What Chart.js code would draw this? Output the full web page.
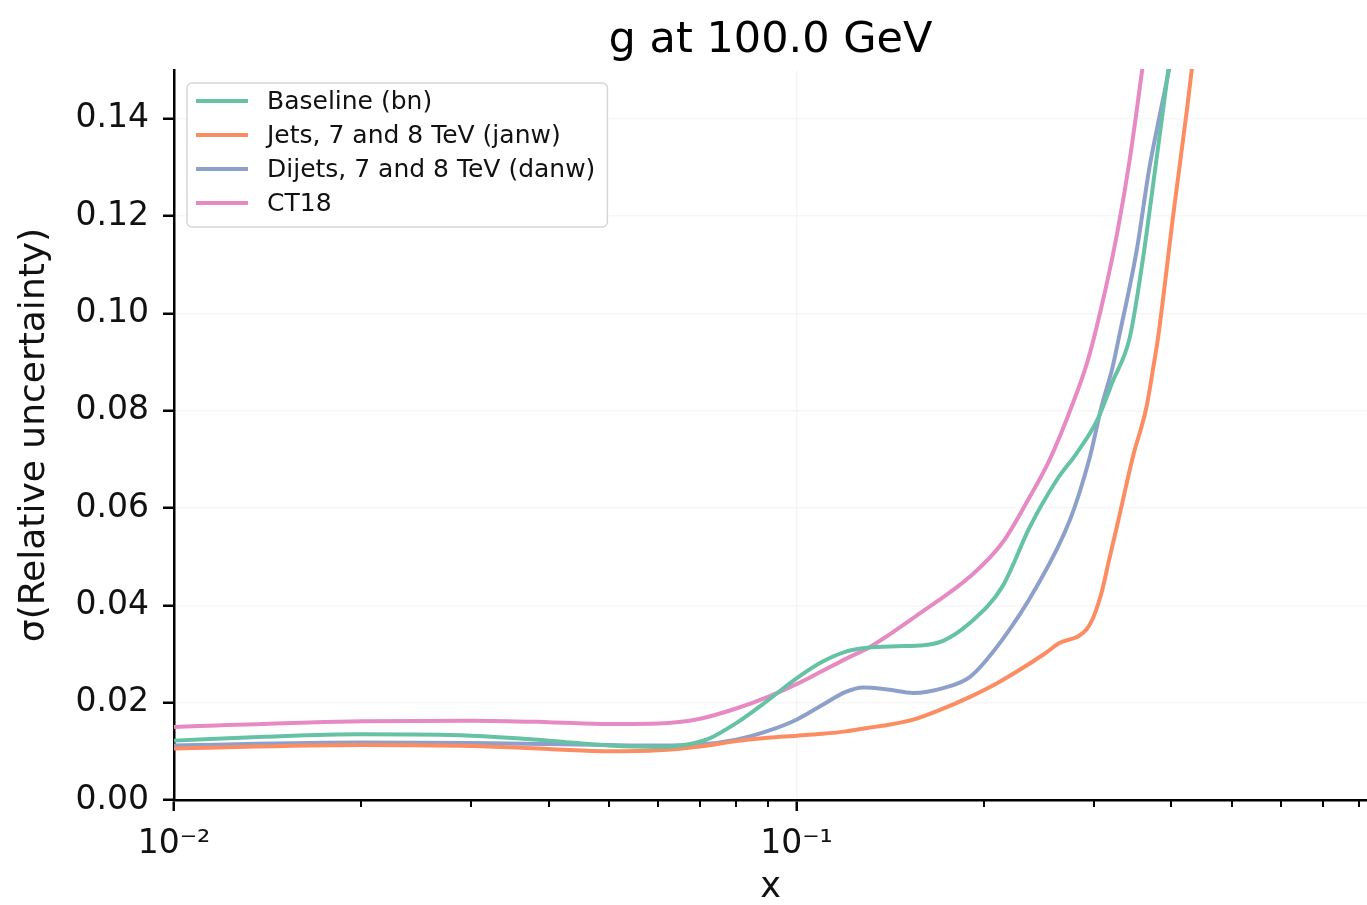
<!DOCTYPE html>
<html>
<head>
<meta charset="utf-8">
<script src="https://cdn.jsdelivr.net/npm/chart.js@4.4.1/dist/chart.umd.min.js"></script>
<style>
  html, body { margin: 0; padding: 0; background: #fff; }
</style>
</head>
<body>
<canvas id="sigmaChart" width="1367" height="905"></canvas>
<script>
// values (x is momentum fraction, y is relative uncertainty)
const seriesLabels = ['Baseline (bn)', 'Jets, 7 and 8 TeV (janw)', 'Dijets, 7 and 8 TeV (danw)', 'CT18'];
const seriesColors = ['#66c2a5', '#fc8d62', '#8da0cb', '#e78ac3'];

const xBaseline = [0.01, 0.014, 0.02, 0.03, 0.04, 0.05, 0.06, 0.066, 0.072, 0.08, 0.09, 0.1, 0.11, 0.12, 0.13, 0.145, 0.16, 0.172, 0.19, 0.214, 0.237, 0.262, 0.282, 0.304, 0.322, 0.343, 0.36, 0.379, 0.391, 0.403];
const yBaseline = [0.0122, 0.0130, 0.0135, 0.0132, 0.0122, 0.0112, 0.0109, 0.0113, 0.0125, 0.0158, 0.0205, 0.0250, 0.0284, 0.0305, 0.0313, 0.0316, 0.0318, 0.0327, 0.0364, 0.0438, 0.0561, 0.0658, 0.0713, 0.0780, 0.0860, 0.0950, 0.111, 0.132, 0.145, 0.158];

const xJets = [0.01, 0.02, 0.03, 0.04, 0.05, 0.06, 0.07, 0.08, 0.09, 0.1, 0.11, 0.12, 0.13, 0.14, 0.154, 0.17, 0.19, 0.21, 0.228, 0.25, 0.265, 0.275, 0.284, 0.292, 0.299, 0.309, 0.318, 0.327, 0.347, 0.365, 0.376, 0.3805, 0.4036, 0.424, 0.437];
const yJets = [0.0106, 0.0113, 0.0111, 0.0105, 0.0100, 0.0102, 0.0110, 0.0121, 0.0128, 0.0132, 0.0136, 0.0141, 0.0148, 0.0154, 0.0165, 0.0185, 0.0212, 0.0240, 0.0267, 0.0300, 0.0323, 0.0330, 0.0337, 0.0350, 0.0372, 0.0426, 0.0495, 0.0561, 0.0705, 0.0808, 0.0905, 0.0946, 0.121, 0.142, 0.156];

const xDijets = [0.01, 0.02, 0.03, 0.04, 0.05, 0.06, 0.07, 0.08, 0.09, 0.1, 0.11, 0.12, 0.128, 0.14, 0.154, 0.172, 0.19, 0.214, 0.243, 0.275, 0.296, 0.309, 0.322, 0.329, 0.352, 0.369, 0.383, 0.398, 0.405];
const yDijets = [0.0112, 0.0118, 0.0117, 0.0115, 0.0113, 0.0112, 0.0114, 0.0124, 0.0142, 0.0165, 0.0195, 0.0222, 0.0231, 0.0227, 0.0220, 0.0230, 0.0253, 0.0329, 0.0438, 0.0576, 0.0705, 0.0808, 0.0890, 0.0946, 0.1130, 0.1300, 0.1405, 0.151, 0.156];

const xCT18 = [0.01, 0.02, 0.03, 0.04, 0.05, 0.06, 0.07, 0.08, 0.09, 0.1, 0.11, 0.12, 0.131, 0.158, 0.19, 0.214, 0.237, 0.255, 0.275, 0.294, 0.313, 0.328, 0.343, 0.36, 0.366];
const yCT18 = [0.0150, 0.0162, 0.0163, 0.0160, 0.0156, 0.0157, 0.0167, 0.0188, 0.0212, 0.0238, 0.0265, 0.0290, 0.0314, 0.0384, 0.0459, 0.0528, 0.0623, 0.0699, 0.0800, 0.0905, 0.1045, 0.117, 0.1316, 0.151, 0.158];

const xTickValues = [0.01, 0.02, 0.03, 0.04, 0.05, 0.06, 0.07, 0.08, 0.09, 0.1, 0.2, 0.3, 0.4, 0.5, 0.6, 0.7, 0.8];
const xMajorTicks = [0.01, 0.1];
const xTickLabels = ['10\u207B\u00B2', '10\u207B\u00B9'];
const yTickValues = [0, 0.02, 0.04, 0.06, 0.08, 0.10, 0.12, 0.14];

const titleText = 'g at 100.0 GeV';
const fontFamily = '"DejaVu Sans", sans-serif';
const gridColor = 'rgba(0, 0, 0, 0.035)';

function pairUp(xs, ys) {
    return xs.map(function (x, i) { return { x: x, y: ys[i] }; });
}

const allSeries = [[xBaseline, yBaseline], [xJets, yJets], [xDijets, yDijets], [xCT18, yCT18]];

const datasets = allSeries.map(function (s, i) {
    return {
        label: seriesLabels[i],
        data: pairUp(s[0], s[1]),
        borderColor: seriesColors[i],
        backgroundColor: seriesColors[i],
        borderWidth: 4,
        pointRadius: 0,
        cubicInterpolationMode: 'monotone',
        fill: false,
        clip: 1
    };
});

// title centred over the plot area, like matplotlib
const centerTitle = {
    id: 'centerTitle',
    afterDraw(chart) {
        const ctx = chart.ctx, a = chart.chartArea;
        ctx.save();
        ctx.font = '43px ' + fontFamily;
        ctx.fillStyle = '#000';
        ctx.textAlign = 'center';
        ctx.textBaseline = 'alphabetic';
        ctx.fillText(titleText, (a.left + a.right) / 2, a.top - 18);
        ctx.restore();
    }
};

// short minor ticks on the log axis
const minorTicks = {
    id: 'minorTicks',
    afterDraw(chart) {
        const ctx = chart.ctx, xs = chart.scales.x, y0 = chart.chartArea.bottom;
        ctx.save();
        ctx.strokeStyle = '#000';
        ctx.lineWidth = 2;
        xTickValues.forEach(function (v) {
            if (xMajorTicks.includes(v)) return;
            const px = Math.round(xs.getPixelForValue(v));
            ctx.beginPath();
            ctx.moveTo(px, y0);
            ctx.lineTo(px, y0 + 7);
            ctx.stroke();
        });
        ctx.restore();
    }
};

// boxed legend in the upper left corner of the axes
const boxLegend = {
    id: 'boxLegend',
    afterDraw(chart) {
        const ctx = chart.ctx, a = chart.chartArea;
        const left = a.left + 13, top = a.top + 13, rowH = 34;
        ctx.save();
        ctx.font = '25px ' + fontFamily;
        let maxW = 0;
        chart.data.datasets.forEach(function (d) { maxW = Math.max(maxW, ctx.measureText(d.label).width); });
        const w = 80 + maxW + 12, h = 18 + rowH * chart.data.datasets.length - 10;
        ctx.beginPath();
        ctx.roundRect(left, top, w, h, 5);
        ctx.fillStyle = 'rgba(255,255,255,0.8)';
        ctx.fill();
        ctx.strokeStyle = '#d6d6d6';
        ctx.lineWidth = 1.5;
        ctx.stroke();
        chart.data.datasets.forEach(function (d, i) {
            const cy = top + 18 + rowH * i;
            ctx.strokeStyle = d.borderColor;
            ctx.lineWidth = 4;
            ctx.beginPath();
            ctx.moveTo(left + 9, cy);
            ctx.lineTo(left + 61, cy);
            ctx.stroke();
            ctx.fillStyle = '#111';
            ctx.textAlign = 'left';
            ctx.textBaseline = 'middle';
            ctx.fillText(d.label, left + 80, cy + 1);
        });
        ctx.restore();
    }
};

const ctx = document.getElementById('sigmaChart').getContext('2d');

new Chart(ctx, {
    type: 'line',
    data: { datasets: datasets },
    plugins: [centerTitle, minorTicks, boxLegend],
    options: {
        responsive: false,
        animation: false,
        events: [],
        layout: { padding: { top: 70, right: 0, bottom: 0, left: 0 } },
        plugins: {
            legend: { display: false },
            title: { display: false },
            tooltip: { enabled: false }
        },
        scales: {
            x: {
                type: 'logarithmic',
                position: 'bottom',
                min: 0.01,
                max: 0.825,
                afterBuildTicks: function (scale) {
                    scale.ticks = xTickValues.map(function (v) { return { value: v, major: xMajorTicks.includes(v) }; });
                },
                afterFit: function (scale) {
                    scale.height = 105;
                    scale.paddingRight = 0;
                    scale.paddingLeft = 0;
                },
                ticks: {
                    autoSkip: false,
                    maxRotation: 0,
                    padding: 14,
                    color: '#111',
                    font: { family: fontFamily, size: 33 },
                    callback: function (val) {
                        const k = xMajorTicks.indexOf(val);
                        return k >= 0 ? xTickLabels[k] : '';
                    }
                },
                grid: {
                    color: function (c) { return c.tick && xMajorTicks.includes(c.tick.value) ? gridColor : 'rgba(0,0,0,0)'; },
                    tickColor: function (c) { return c.tick && xMajorTicks.includes(c.tick.value) ? '#000' : 'rgba(0,0,0,0)'; },
                    lineWidth: 1.5,
                    tickLength: 11,
                    tickWidth: 2.5
                },
                border: { display: true, color: '#000', width: 2.5 },
                title: {
                    display: true,
                    text: 'x',
                    color: '#111',
                    font: { family: fontFamily, size: 35, lineHeight: 1 },
                    padding: { top: 0, bottom: 0 }
                }
            },
            y: {
                type: 'linear',
                position: 'left',
                min: 0,
                max: 0.15,
                afterBuildTicks: function (scale) {
                    scale.ticks = yTickValues.map(function (v) { return { value: v }; });
                },
                afterFit: function (scale) { scale.width = 174; },
                ticks: {
                    padding: 14,
                    color: '#111',
                    font: { family: fontFamily, size: 33 },
                    callback: function (val) { return Number(val).toFixed(2); }
                },
                grid: {
                    color: gridColor,
                    tickColor: '#000',
                    lineWidth: 1.5,
                    tickLength: 11,
                    tickWidth: 2.5
                },
                border: { display: true, color: '#000', width: 2.5 },
                title: {
                    display: true,
                    text: '\u03C3(Relative uncertainty)',
                    color: '#111',
                    font: { family: fontFamily, size: 36, lineHeight: 1 },
                    padding: { top: 17, bottom: 0 }
                }
            }
        }
    }
});
</script>
</body>
</html>
